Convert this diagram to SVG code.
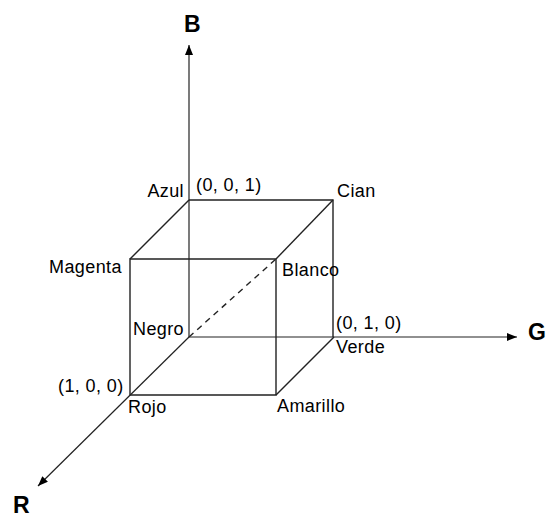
<svg xmlns="http://www.w3.org/2000/svg" width="547" height="518" viewBox="0 0 547 518">
<defs>
<marker id="arr" viewBox="0 0 10 8" refX="10" refY="4" markerWidth="10" markerHeight="8" markerUnits="userSpaceOnUse" orient="auto">
<path d="M0,0 L10,4 L0,8 z" fill="#000"/>
</marker>
</defs>
<style>
.edge{stroke:#222;stroke-width:1.4;fill:none}
.axis{stroke:#222;stroke-width:1.2;fill:none}
.lbl{font-family:"Liberation Sans",Arial,sans-serif;font-size:18px;letter-spacing:0.4px;fill:#000}
.ax{font-family:"Liberation Sans",Arial,sans-serif;font-size:23px;font-weight:bold;fill:#000}
</style>
<rect width="547" height="518" fill="#fff"/>
<g id="connectors">
<line class="axis" x1="189" y1="337" x2="189" y2="45" marker-end="url(#arr)"/>
<line class="axis" x1="189" y1="337" x2="517" y2="337" marker-end="url(#arr)"/>
<line class="axis" x1="189" y1="337" x2="38" y2="486" marker-end="url(#arr)"/>
<path class="edge" d="M189,200 H333 V337"/>
<path class="edge" d="M130,259 H276 V395 H130 Z"/>
<line class="edge" x1="130" y1="259" x2="189" y2="200"/>
<line class="edge" x1="276" y1="259" x2="333" y2="200"/>
<line class="edge" x1="276" y1="395" x2="334" y2="337"/>
<line class="edge" x1="189" y1="337" x2="276" y2="259" stroke-dasharray="6,5"/>
</g>
<g id="axis-B"><text class="ax" x="184" y="32">B</text></g>
<g id="axis-G"><text class="ax" x="528" y="340">G</text></g>
<g id="axis-R"><text class="ax" x="13" y="513">R</text></g>
<g id="azul"><text class="lbl" x="184" y="197" text-anchor="end">Azul</text><text class="lbl" x="196" y="191">(0, 0, 1)</text></g>
<g id="cian"><text class="lbl" x="337" y="197">Cian</text></g>
<g id="magenta"><text class="lbl" x="49" y="273">Magenta</text></g>
<g id="blanco"><text class="lbl" x="282" y="276">Blanco</text></g>
<g id="negro"><text class="lbl" x="133" y="335">Negro</text></g>
<g id="verde"><text class="lbl" x="336" y="329">(0, 1, 0)</text><text class="lbl" x="336" y="353">Verde</text></g>
<g id="rojo"><text class="lbl" x="58" y="392">(1, 0, 0)</text><text class="lbl" x="128" y="413">Rojo</text></g>
<g id="amarillo"><text class="lbl" x="277" y="412">Amarillo</text></g>
</svg>
